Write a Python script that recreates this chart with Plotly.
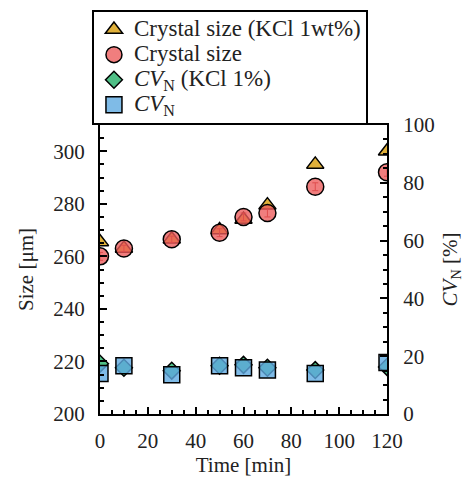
import plotly.graph_objects as go

time_min = [0, 10, 30, 50, 60, 70, 90, 120]
size_kcl = [265.5, 263, 266.5, 270, 274, 279.5, 295, 300]
size_pure = [260, 263, 266.5, 269, 275, 276.5, 286.5, 292]
size_pure_err = [1.5, 1.2, 1.2, 1.5, 1.5, 1.5, 1.5, 1.5]
cv_kcl = [17.4, 16.0, 15.0, 16.7, 17.0, 16.0, 15.2, 16.3]
cv_pure = [14.0, 16.7, 13.6, 16.7, 16.0, 15.2, 14.0, 17.8]
legend_names = ["Crystal size (KCl 1wt%)", "Crystal size",
                "<i>CV</i><sub>N</sub> (KCl 1%)", "<i>CV</i><sub>N</sub>"]

FONT = "Times New Roman, Liberation Serif, serif"
line = dict(color="black", width=1.5)


def big(t):
    return "<span style='font-size:23px'>" + t + "</span>"


fig = go.Figure()
fig.add_trace(go.Scatter(x=time_min, y=size_kcl, mode="markers", name=big(legend_names[0]),
                         marker=dict(symbol="triangle-up", size=15, color="#E0B03A", line=line)))
fig.add_trace(go.Scatter(x=time_min, y=size_pure, mode="markers", name=big(legend_names[1]),
                         error_y=dict(type="data", array=size_pure_err, color="#B02020", thickness=1, width=3),
                         marker=dict(symbol="circle", size=17, color="rgba(236,90,90,0.78)", line=line)))
fig.add_trace(go.Scatter(x=time_min, y=cv_kcl, mode="markers", name=big(legend_names[2]), yaxis="y2",
                         marker=dict(symbol="diamond", size=13, color="#4FBF86", line=line)))
fig.add_trace(go.Scatter(x=time_min, y=cv_pure, mode="markers", name=big(legend_names[3]), yaxis="y2",
                         marker=dict(symbol="square", size=16, color="rgba(95,170,225,0.8)", line=line)))

axcommon = dict(showline=True, linecolor="black", linewidth=2, ticks="inside", ticklen=7,
                tickwidth=1.5, tickcolor="black", showgrid=False, zeroline=False,
                tickfont=dict(family=FONT, size=21, color="#222"))
minor = dict(dtick=5, ticks="inside", ticklen=4, tickcolor="black", tickwidth=1.5)

fig.update_layout(
    width=464, height=486,
    margin=dict(l=100, r=77, t=125, b=72, autoexpand=False),
    paper_bgcolor="white", plot_bgcolor="white",
    font=dict(family=FONT, size=20, color="#222"),
    showlegend=True,
    legend=dict(x=-0.028, y=1.398, xanchor="left", yanchor="top", bordercolor="black", borderwidth=2,
                bgcolor="white", font=dict(family=FONT, size=17, color="#222"),
                itemwidth=30, tracegroupgap=0),
    xaxis=dict(range=[0, 120], dtick=20, mirror=True, minor=minor, ticklabelstandoff=7,
               title=dict(text="Time [min]", font=dict(family=FONT, size=21), standoff=5),
               **axcommon),
    yaxis=dict(range=[200, 310], tickvals=[200, 220, 240, 260, 280, 300], mirror=True,
               minor=minor, ticklabelstandoff=9,
               title=dict(text="Size [μm]", font=dict(family=FONT, size=21), standoff=14),
               **axcommon),
    yaxis2=dict(range=[0, 100], dtick=20, overlaying="y", side="right", minor=minor,
                ticklabelstandoff=10,
                title=dict(text="<i>CV</i><sub>N</sub> [%]", font=dict(family=FONT, size=21), standoff=12),
                **axcommon),
)
fig.write_html("out.html", config={"displayModeBar": False},
               post_script="document.body.style.margin='0';document.body.style.overflow='hidden';")
